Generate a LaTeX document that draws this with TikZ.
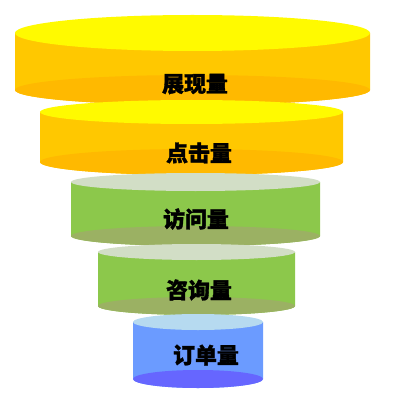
\documentclass[tikz,border=0pt]{standalone}
\usepackage{fontspec}
\newfontfamily\cjk[BoldFeatures={FakeBold=1.5}]{Noto Sans CJK SC}

\definecolor{yside}{HTML}{FFC800}
\definecolor{ytop}{HTML}{FFFA00}
\definecolor{ybot}{HTML}{FFB900}
\definecolor{gside}{HTML}{8CC84B}
\definecolor{gtop}{HTML}{D2DEC6}
\definecolor{gbot}{HTML}{9BB163}
\definecolor{bside}{HTML}{6B9BFF}
\definecolor{btop}{HTML}{B6DAF0}
\definecolor{bbot}{HTML}{6666FF}

\begin{document}
\begin{tikzpicture}[x=0.025cm, y=-0.025cm,
                    layer text/.style={font=\cjk\bfseries\fontsize{15.6}{18}\selectfont, text=black, inner sep=0pt}]

    \useasboundingbox (0,0) rectangle (400,400);

    % centre x / half width / top y / top radius / bottom y / bottom radius / colours
    \foreach \cx/\a/\yt/\rt/\yb/\rb/\sd/\tp/\bt in {
        192.5/177.5/33/18/90/15/yside/ytop/ybot,
        191.5/151.5/112/12/162/13/yside/ytop/ybot,
        195.5/124.5/182/9/236/10/gside/gtop/gbot,
        196.5/98.5/252/8/306/9/gside/gtop/gbot,
        198/65/322/8/379/9/bside/btop/bbot}
    {
      \fill[\sd] (\cx-\a,\yt) -- (\cx-\a,\yb)
        arc[start angle=180, end angle=0, x radius=\a, y radius=\rb]
        -- (\cx+\a,\yt) -- cycle;
      \fill[\bt] (\cx,\yb) ellipse[x radius=\a, y radius=\rb];
      \fill[\tp] (\cx,\yt) ellipse[x radius=\a, y radius=\rt];
    }

    \node[layer text] (show)    at (195,84)  {展现量};
    \node[layer text] (click)   at (199,153) {点击量};
    \node[layer text] (visit)   at (196,219) {访问量};
    \node[layer text] (consult) at (199,290) {咨询量};
    \node[layer text] (order)   at (206,355) {订单量};
  \end{tikzpicture}
\end{document}
